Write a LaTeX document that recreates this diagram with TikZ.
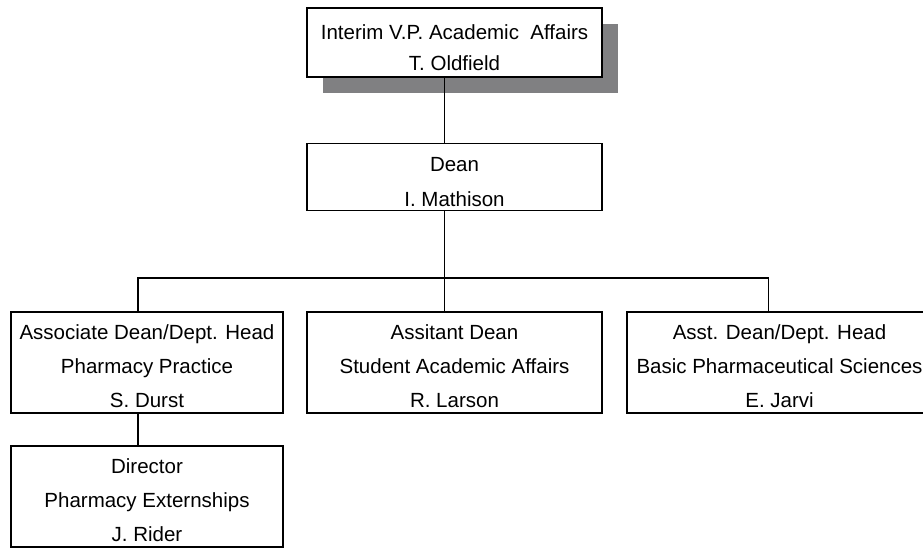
\documentclass[tikz,border=0pt]{standalone}
\usepackage{fontspec}
\setmainfont{Liberation Sans}
\usepackage{tikz}
\usetikzlibrary{shadows}

\definecolor{shadowgray}{RGB}{128,128,130}
\newcommand{\padtop}[1][23pt]{\rule{0pt}{#1}}

\begin{document}
\begin{tikzpicture}[
        x=1pt, y=-1pt,
        orgbox/.style={draw, line width=1.7pt, fill=white, inner sep=0pt, align=center,
            font=\fontsize{20.5}{34}\selectfont},
        twoline/.style={orgbox, minimum height=67pt},
        threeline/.style={orgbox, minimum height=101pt},
        link/.style={line width=1.7pt}
    ]
    \useasboundingbox (0,0) rectangle (923,548);

    % --- Top: V.P. and Dean ---
    \node[orgbox, minimum width=295pt, minimum height=69pt,
          font=\fontsize{20.5}{31}\selectfont,
          drop shadow={shadow xshift=16pt, shadow yshift=-16pt, shadow scale=1,
                       fill=shadowgray, opacity=1}]
        (vp) at (454.5,42.5) {\padtop[26pt]Interim V.P. Academic\ \ Affairs\\T. Oldfield};
    \node[twoline, minimum width=295pt, font=\fontsize{20.5}{35}\selectfont]
        (dean) at (454.5,177) {\padtop[24pt]Dean\\I. Mathison};

    % --- Second row ---
    \node[threeline, minimum width=272pt] (assoc) at (147,362.5)
        {\padtop Associate Dean/Dept. Head\\Pharmacy Practice\\S. Durst};
    \node[threeline, minimum width=295pt] (assist) at (454.5,362.5)
        {\padtop Assitant Dean\\Student Academic Affairs\\R. Larson};
    \node[threeline, minimum width=305pt] (basic) at (779.5,362.5)
        {\padtop Asst. Dean/Dept. Head\\Basic Pharmaceutical Sciences\\E. Jarvi};

    % --- Third row ---
    \node[threeline, minimum width=272pt] (director) at (147,496.5)
        {\padtop Director\\Pharmacy Externships\\J. Rider};

    % --- Connectors ---
    \coordinate (bus) at (444.5,278);
    \draw[link] ([xshift=-10pt]vp.south) -- ([xshift=-10pt]dean.north);
    \draw[link] ([xshift=-10pt]dean.south) -- ([xshift=-10pt]assist.north);
    \draw[link] ([xshift=-9pt]assoc.north) |- (bus) -| ([xshift=-11pt]basic.north);
    \draw[link] ([xshift=-9pt]assoc.south) -- ([xshift=-9pt]director.north);

\end{tikzpicture}
\end{document}
